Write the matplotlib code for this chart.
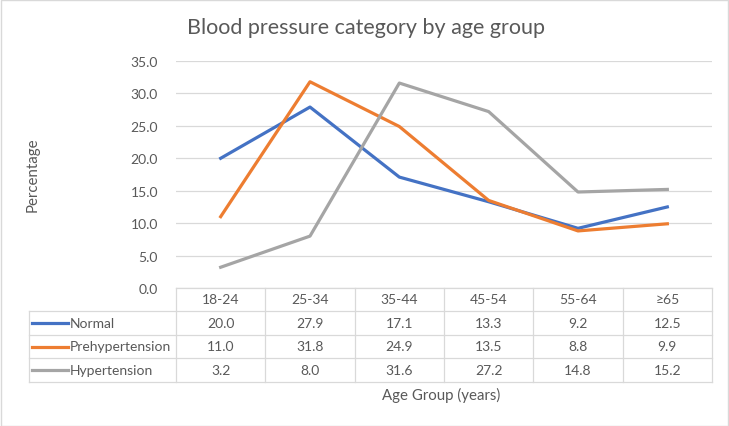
import matplotlib
matplotlib.use("Agg")
import matplotlib.pyplot as plt
from matplotlib.lines import Line2D
from matplotlib.patches import Rectangle
from matplotlib import transforms

age_groups = ['18-24', '25-34', '35-44', '45-54', '55-64', '≥65']
normal = [20.0, 27.9, 17.1, 13.3, 9.2, 12.5]
prehypertension = [11.0, 31.8, 24.9, 13.5, 8.8, 9.9]
hypertension = [3.2, 8.0, 31.6, 27.2, 14.8, 15.2]

series = [
    ('Normal', normal, '#4472C4'),
    ('Prehypertension', prehypertension, '#ED7D31'),
    ('Hypertension', hypertension, '#A5A5A5'),
]

plt.rcParams['font.family'] = ['Lato', 'DejaVu Sans']
text_color = '#595959'
grid_color = '#D9D9D9'

W, H = 729, 427


def fx(px):
    return px / W


def fy(py):
    return 1 - py / H


fig = plt.figure(figsize=(W / 100, H / 100), dpi=100)

left, right, top, bottom = 176, 712, 62, 289
ax = fig.add_axes([fx(left), fy(bottom), fx(right) - fx(left), fy(top) - fy(bottom)])

x = list(range(len(age_groups)))
for name, vals, color in series:
    ax.plot(x, vals, color=color, linewidth=2.3, solid_joinstyle='round')

ax.set_xlim(-0.5, len(age_groups) - 0.5)
ax.set_ylim(0, 35)
ax.set_yticks([0, 5, 10, 15, 20, 25, 30, 35])
ax.set_yticklabels([f'{v:.1f}' for v in ax.get_yticks()])
ax.set_xticks([])
ax.tick_params(axis='y', length=0, pad=13, labelsize=10, labelcolor=text_color)
ax.grid(axis='y', color=grid_color, linewidth=0.9)
ax.set_axisbelow(True)
for side in ['left', 'right', 'top', 'bottom']:
    ax.spines[side].set_visible(False)

# title and axis titles
fig.text(fx(366), fy(28), 'Blood pressure category by age group',
         ha='center', va='center', fontsize=15.5, color=text_color)
fig.text(fx(33), fy(175), 'Percentage', rotation=90, ha='center', va='center',
         fontsize=10.8, color=text_color)
fig.text(fx(441), fy(395), 'Age Group (years)', ha='center', va='center',
         fontsize=10.8, color=text_color)

# data table under the plot
row_lines = [289, 312, 336, 359, 383]
table_left = 29
col_edges = [left + i * (right - left) / len(age_groups) for i in range(len(age_groups) + 1)]
lw = 0.9

fig.add_artist(Line2D([fx(left), fx(right)], [fy(row_lines[0])] * 2, color=grid_color, lw=lw))
for ry in row_lines[1:]:
    fig.add_artist(Line2D([fx(table_left), fx(right)], [fy(ry)] * 2, color=grid_color, lw=lw))
for cx in col_edges:
    fig.add_artist(Line2D([fx(cx)] * 2, [fy(row_lines[0]), fy(row_lines[-1])], color=grid_color, lw=lw))
fig.add_artist(Line2D([fx(table_left)] * 2, [fy(row_lines[1]), fy(row_lines[-1])], color=grid_color, lw=lw))

trans = transforms.blended_transform_factory(ax.transData, fig.transFigure)
header_y = (row_lines[0] + row_lines[1]) / 2
for i, lab in enumerate(age_groups):
    ax.text(i, fy(header_y), lab, transform=trans, ha='center', va='center',
            fontsize=10, color=text_color, clip_on=False)

for r, (name, vals, color) in enumerate(series):
    cy = (row_lines[r + 1] + row_lines[r + 2]) / 2
    fig.add_artist(Line2D([fx(32), fx(68)], [fy(cy)] * 2, color=color, lw=2.3))
    fig.text(fx(70), fy(cy), name, ha='left', va='center', fontsize=10, color=text_color)
    for i, v in enumerate(vals):
        ax.text(i, fy(cy), f'{v:.1f}', transform=trans, ha='center', va='center',
                fontsize=10, color=text_color, clip_on=False)

# outer chart border
fig.add_artist(Rectangle((0.5 / W, 0.5 / H), 1 - 1.5 / W, 1 - 1.5 / H, transform=fig.transFigure,
                         fill=False, edgecolor=grid_color, lw=1))

fig.savefig('out.png', dpi=100)
